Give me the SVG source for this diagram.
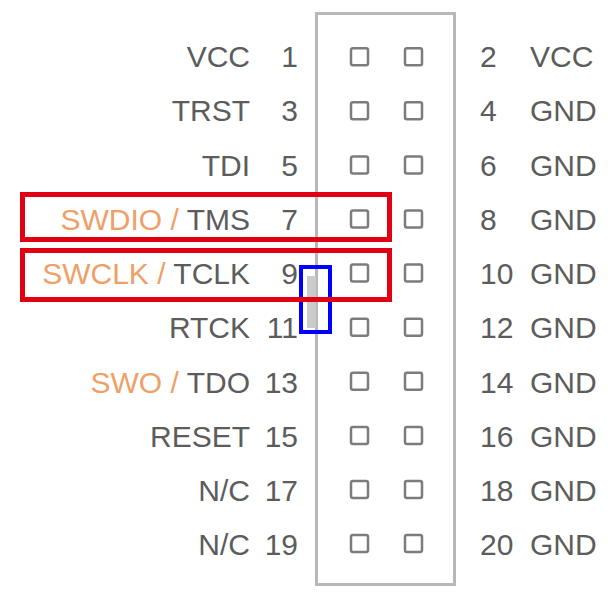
<svg xmlns="http://www.w3.org/2000/svg" width="616" height="595" viewBox="0 0 616 595">
<style>
.t{font-family:"Liberation Sans",Arial,sans-serif;font-size:30px;fill:#5c5c5c}
.l{text-anchor:end}
.o{fill:#EFA066}
.pin{fill:none;stroke:#7c7c7c;stroke-width:2.5}
</style>
<rect width="616" height="595" fill="#ffffff"/>
<g id="header">
<rect x="316.5" y="13.5" width="138" height="571" fill="none" stroke="#b8b8b8" stroke-width="3"/>
<rect x="307" y="276" width="9" height="52" fill="#cbcbcb"/>
</g>
<g id="pins">
<rect class="pin" x="351" y="48.2" width="17" height="17" rx="2"/><rect class="pin" x="405" y="48.2" width="17" height="17" rx="2"/>
<rect class="pin" x="351" y="102.3" width="17" height="17" rx="2"/><rect class="pin" x="405" y="102.3" width="17" height="17" rx="2"/>
<rect class="pin" x="351" y="156.4" width="17" height="17" rx="2"/><rect class="pin" x="405" y="156.4" width="17" height="17" rx="2"/>
<rect class="pin" x="351" y="210.5" width="17" height="17" rx="2"/><rect class="pin" x="405" y="210.5" width="17" height="17" rx="2"/>
<rect class="pin" x="351" y="264.6" width="17" height="17" rx="2"/><rect class="pin" x="405" y="264.6" width="17" height="17" rx="2"/>
<rect class="pin" x="351" y="318.7" width="17" height="17" rx="2"/><rect class="pin" x="405" y="318.7" width="17" height="17" rx="2"/>
<rect class="pin" x="351" y="372.8" width="17" height="17" rx="2"/><rect class="pin" x="405" y="372.8" width="17" height="17" rx="2"/>
<rect class="pin" x="351" y="426.9" width="17" height="17" rx="2"/><rect class="pin" x="405" y="426.9" width="17" height="17" rx="2"/>
<rect class="pin" x="351" y="481" width="17" height="17" rx="2"/><rect class="pin" x="405" y="481" width="17" height="17" rx="2"/>
<rect class="pin" x="351" y="535.1" width="17" height="17" rx="2"/><rect class="pin" x="405" y="535.1" width="17" height="17" rx="2"/>
</g>
<g id="left-labels">
<text class="t l" x="250" y="67">VCC</text><text class="t l" x="298" y="67">1</text>
<text class="t l" x="250" y="121.25">TRST</text><text class="t l" x="298" y="121.25">3</text>
<text class="t l" x="250" y="175.5">TDI</text><text class="t l" x="298" y="175.5">5</text>
<text class="t l" x="250" y="229.75"><tspan class="o">SWDIO / </tspan>TMS</text><text class="t l" x="298" y="229.75">7</text>
<text class="t l" x="250" y="284"><tspan class="o">SWCLK / </tspan>TCLK</text><text class="t l" x="298" y="284">9</text>
<text class="t l" x="250" y="338.25">RTCK</text><text class="t l" x="298" y="338.25">11</text>
<text class="t l" x="250" y="392.5"><tspan class="o">SWO / </tspan>TDO</text><text class="t l" x="298" y="392.5">13</text>
<text class="t l" x="250" y="446.75">RESET</text><text class="t l" x="298" y="446.75">15</text>
<text class="t l" x="250" y="501">N/C</text><text class="t l" x="298" y="501">17</text>
<text class="t l" x="250" y="555.25">N/C</text><text class="t l" x="298" y="555.25">19</text>
</g>
<g id="right-labels">
<text class="t" x="480" y="67">2</text><text class="t" x="530" y="67">VCC</text>
<text class="t" x="480" y="121.25">4</text><text class="t" x="530" y="121.25">GND</text>
<text class="t" x="480" y="175.5">6</text><text class="t" x="530" y="175.5">GND</text>
<text class="t" x="480" y="229.75">8</text><text class="t" x="530" y="229.75">GND</text>
<text class="t" x="480" y="284">10</text><text class="t" x="530" y="284">GND</text>
<text class="t" x="480" y="338.25">12</text><text class="t" x="530" y="338.25">GND</text>
<text class="t" x="480" y="392.5">14</text><text class="t" x="530" y="392.5">GND</text>
<text class="t" x="480" y="446.75">16</text><text class="t" x="530" y="446.75">GND</text>
<text class="t" x="480" y="501">18</text><text class="t" x="530" y="501">GND</text>
<text class="t" x="480" y="555.25">20</text><text class="t" x="530" y="555.25">GND</text>
</g>
<g id="highlights">
<rect id="key-box" x="301" y="267" width="29" height="65" fill="none" stroke="#0000ff" stroke-width="4"/>
<rect id="swdio-box" x="22.5" y="194.5" width="367" height="45" fill="none" stroke="#e00012" stroke-width="5"/>
<rect id="swclk-box" x="22.5" y="250.5" width="367" height="49" fill="none" stroke="#e00012" stroke-width="5"/>
</g>
</svg>
